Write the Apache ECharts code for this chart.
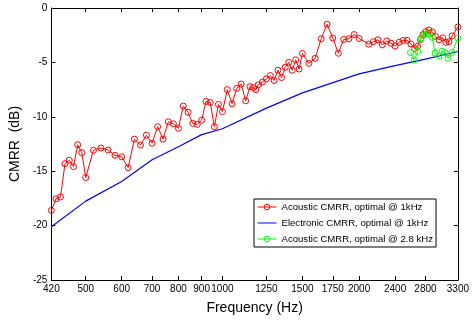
<!DOCTYPE html>
<html>
<head>
<meta charset="utf-8">
<script src="https://cdn.jsdelivr.net/npm/echarts@6/dist/echarts.min.js"></script>
<style>html,body{margin:0;padding:0;background:#fff;}#c{width:472px;height:320px;}</style>
</head>
<body>
<div id="c"></div>
<script>
// Tick labels
var xTicks = [420, 500, 600, 700, 800, 900, 1000, 1250, 1500, 1750, 2000, 2400, 2800, 3300];
var yTicks = [-25, -20, -15, -10, -5, 0];

// Acoustic CMRR, optimal @ 1kHz
var redFreq = [420, 430, 440, 450, 460, 470, 480, 490, 500, 520, 540, 560, 580, 600, 620, 640, 660, 680, 700, 720,
  740, 760, 780, 800, 820, 840, 860, 880, 900, 920, 940, 960, 980, 1000, 1025, 1050, 1075, 1100, 1125, 1150,
  1170, 1185, 1200, 1225, 1250, 1275, 1300, 1325, 1350, 1375, 1400, 1425, 1450, 1475, 1500, 1550, 1600, 1650, 1700, 1750,
  1800, 1850, 1900, 1950, 2000, 2100, 2150, 2200, 2250, 2300, 2350, 2400, 2450, 2500, 2550, 2600, 2650, 2690, 2730, 2765,
  2805, 2850, 2900, 2945, 3000, 3055, 3105, 3155, 3205, 3300];
var redDb = [-18.6, -17.54, -17.36, -14.31, -13.99, -14.58, -12.57, -13.29, -15.58, -13.08, -12.87, -13.05, -13.54, -13.68, -14.67, -12.05, -12.6, -11.69, -12.43, -10.91,
  -12.05, -10.46, -10.64, -11.06, -9.01, -9.58, -10.6, -10.7, -10.31, -8.59, -8.68, -10.91, -8.86, -9.52, -7.5, -8.8, -7.39, -6.99, -8.53, -7.23,
  -7.32, -7.5, -7.05, -6.81, -6.51, -6.21, -6.66, -5.72, -6.39, -5.45, -5.0, -5.72, -4.76, -5.61, -4.18, -5.09, -4.63, -2.83, -1.49, -2.76,
  -4.16, -2.89, -2.83, -2.44, -2.8, -3.32, -3.1, -2.92, -3.39, -3.03, -3.23, -3.5, -3.15, -2.98, -2.97, -3.3, -3.73, -3.51, -2.91, -2.44,
  -2.17, -2.02, -2.2, -2.62, -2.92, -2.74, -3.16, -3.1, -2.56, -1.75];

// Electronic CMRR, optimal @ 1kHz
var blueFreq = [420, 500, 600, 700, 800, 900, 1000, 1250, 1500, 2000, 2400, 2800, 3300];
var blueDb = [-20.1, -17.75, -15.94, -13.95, -12.75, -11.64, -11.1, -9.2, -7.8, -6.06, -5.3, -4.7, -4.0];

// Acoustic CMRR, optimal @ 2.8 kHz
var greenFreq = [2595, 2645, 2692, 2737, 2778, 2817, 2855, 2900, 2940, 3000, 3045, 3091, 3140, 3200, 3300];
var greenDb = [-4.1, -4.79, -3.98, -2.78, -2.49, -2.37, -2.38, -2.71, -4.14, -4.4, -3.98, -4.1, -4.63, -4.09, -2.78];

var seriesNames = ['Acoustic CMRR, optimal @ 1kHz', 'Electronic CMRR, optimal @ 1kHz', 'Acoustic CMRR, optimal @ 2.8 kHz'];

function pairs(xs, ys) { return xs.map(function (x, i) { return [x, ys[i]]; }); }

var FONT = '"Liberation Sans", Arial, sans-serif';
var chart = echarts.init(document.getElementById('c'), null, { renderer: 'canvas' });

var axisLine = { show: true, onZero: false, lineStyle: { color: '#000', width: 1 } };
var tickStyle = { color: '#000', width: 1 };

chart.setOption({
  animation: false,
  backgroundColor: '#fff',
  grid: { left: 51, right: 11, top: 8, bottom: 36, containLabel: false },
  legend: {
    left: 254, top: 199,
    orient: 'vertical',
    backgroundColor: '#fff',
    borderColor: '#000', borderWidth: 1,
    padding: [3, 3, 3, 3],
    itemWidth: 19, itemHeight: 7, itemGap: 6,
    lineStyle: { width: 1 },
    itemStyle: { borderWidth: 1 },
    textStyle: { fontFamily: FONT, fontSize: 9.6, color: '#000' },
    data: [
      { name: seriesNames[0] },
      { name: seriesNames[1], icon: 'line', itemStyle: { color: '#0000ff', borderColor: '#0000ff', borderWidth: 1 } },
      { name: seriesNames[2] }
    ]
  },
  xAxis: [{
    type: 'log', logBase: 10, min: 420, max: 3300, position: 'bottom',
    name: 'Frequency (Hz)', nameLocation: 'middle', nameGap: 21,
    nameTextStyle: { fontFamily: FONT, fontSize: 14, color: '#000' },
    axisLine: axisLine,
    axisTick: { show: true, inside: true, length: 4, lineStyle: tickStyle, customValues: xTicks },
    axisLabel: { show: true, customValues: xTicks, margin: 4, fontFamily: FONT, fontSize: 10, color: '#000', hideOverlap: false,
      formatter: function (v) { return String(Math.round(v)); } },
    splitLine: { show: false }, minorTick: { show: false }
  }, {
    type: 'log', logBase: 10, min: 420, max: 3300, position: 'top',
    axisLine: axisLine,
    axisTick: { show: true, inside: true, length: 4, lineStyle: tickStyle, customValues: xTicks },
    axisLabel: { show: false },
    splitLine: { show: false }
  }],
  yAxis: [{
    type: 'value', min: -25, max: 0, interval: 5, position: 'left',
    name: 'CMRR  (dB)', nameLocation: 'middle', nameGap: 23, nameRotate: 90,
    nameTextStyle: { fontFamily: FONT, fontSize: 14, color: '#000' },
    axisLine: axisLine,
    axisTick: { show: true, inside: true, length: 4, lineStyle: tickStyle },
    axisLabel: { show: true, margin: 4, fontFamily: FONT, fontSize: 10, color: '#000' },
    splitLine: { show: false }
  }, {
    type: 'value', min: -25, max: 0, interval: 5, position: 'right',
    axisLine: axisLine,
    axisTick: { show: true, inside: true, length: 4, lineStyle: tickStyle },
    axisLabel: { show: false },
    splitLine: { show: false }
  }],
  series: [{
    name: seriesNames[0], type: 'line', xAxisIndex: 0, yAxisIndex: 0,
    data: pairs(redFreq, redDb),
    symbol: 'circle', symbolSize: 6, showAllSymbol: true,
    lineStyle: { color: '#ff0000', width: 1 },
    itemStyle: { color: 'rgba(255,255,255,0)', borderColor: '#ff0000', borderWidth: 1 },
    z: 3
  }, {
    name: seriesNames[1], type: 'line', xAxisIndex: 0, yAxisIndex: 0,
    data: pairs(blueFreq, blueDb),
    symbol: 'none',
    lineStyle: { color: '#0000ff', width: 1.2 },
    itemStyle: { color: '#0000ff' },
    z: 2
  }, {
    name: seriesNames[2], type: 'line', xAxisIndex: 0, yAxisIndex: 0,
    data: pairs(greenFreq, greenDb),
    symbol: 'circle', symbolSize: 6, showAllSymbol: true,
    lineStyle: { color: '#00ff00', width: 1 },
    itemStyle: { color: 'rgba(255,255,255,0)', borderColor: '#00ff00', borderWidth: 1 },
    z: 4
  }]
});
</script>
</body>
</html>
